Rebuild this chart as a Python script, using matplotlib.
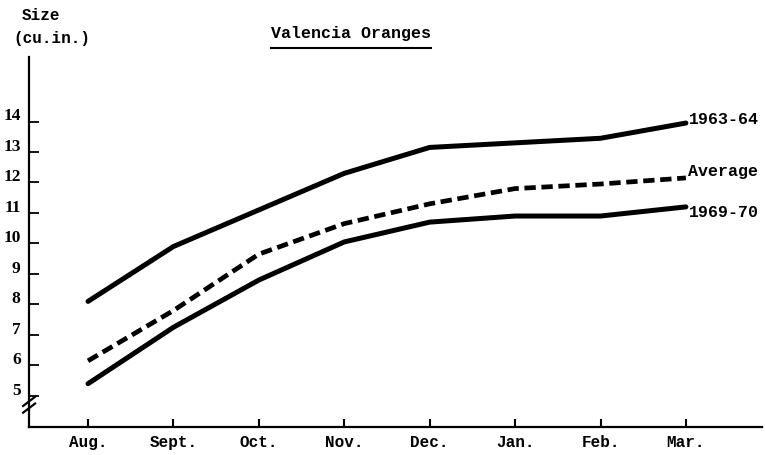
import numpy as np
import matplotlib.pyplot as plt
import matplotlib.transforms as mtransforms

months = ['Aug.', 'Sept.', 'Oct.', 'Nov.', 'Dec.', 'Jan.', 'Feb.', 'Mar.']
size_6364 = [8.1, 9.9, 11.1, 12.3, 13.15, 13.3, 13.45, 13.95]
size_avg = [6.15, 7.8, 9.65, 10.65, 11.3, 11.8, 11.95, 12.15]
size_6970 = [5.4, 7.25, 8.8, 10.05, 10.7, 10.9, 10.9, 11.2]
yticks = [5, 6, 7, 8, 9, 10, 11, 12, 13, 14]

mono = 'Liberation Mono'
serif = 'Liberation Serif'

fig = plt.figure(figsize=(7.65, 4.56), dpi=100)
ax = fig.add_axes([0.038, 0.0614, 0.958, 0.811])

x = np.arange(len(months))
ax.plot(x, size_6364, color='black', lw=3.6, solid_capstyle='round')
ax.plot(x, size_avg, color='black', lw=3.4, linestyle=(0, (2.4, 1.2)))
ax.plot(x, size_6970, color='black', lw=3.6, solid_capstyle='round')

# labels at right ends
ax.text(x[-1] + 0.03, size_6364[-1] + 0.15, '1963-64', fontfamily=mono,
        fontweight='bold', fontsize=12, va='center', ha='left')
ax.text(x[-1] + 0.03, size_avg[-1] + 0.25, 'Average', fontfamily=mono,
        fontweight='bold', fontsize=12, va='center', ha='left')
ax.text(x[-1] + 0.03, size_6970[-1] - 0.15, '1969-70', fontfamily=mono,
        fontweight='bold', fontsize=12, va='center', ha='left')

ax.set_xlim(-0.69, 7.89)
ax.set_ylim(3.98, 16.11)

for s in ['top', 'right']:
    ax.spines[s].set_visible(False)
for s in ['left', 'bottom']:
    ax.spines[s].set_linewidth(1.6)

ax.set_xticks(x)
ax.set_xticklabels(months, fontfamily=mono, fontweight='bold', fontsize=11.5)
ax.set_yticks(yticks)
ax.set_yticklabels([str(v) for v in yticks], fontfamily=serif,
                   fontweight='bold', fontsize=12.5)
ax.tick_params(axis='x', direction='in', length=6, width=1.5, pad=5)
ax.tick_params(axis='y', direction='in', length=7, width=1.3, pad=6)

# y labels sit a bit above their ticks
off = mtransforms.ScaledTranslation(0, 6 / 72, fig.dpi_scale_trans)
for lab in ax.get_yticklabels():
    lab.set_transform(lab.get_transform() + off)

# axis break mark
for dy in [0.0, 0.22]:
    ax.plot([-0.76, -0.62], [4.45 + dy, 4.75 + dy], color='black', lw=1.6,
            clip_on=False)

fig.text(0.029, 0.966, 'Size', fontfamily=mono, fontweight='bold',
         fontsize=11.5, va='center', ha='left')
fig.text(0.017, 0.916, '(cu.in.)', fontfamily=mono, fontweight='bold',
         fontsize=11.5, va='center', ha='left')

fig.text(0.459, 0.926, 'Valencia Oranges', fontfamily=mono,
         fontweight='bold', fontsize=12, va='center', ha='center')
fig.add_artist(plt.Line2D([0.354, 0.563], [0.893, 0.893], color='black',
                          lw=1.5, transform=fig.transFigure))

fig.savefig('out.png', dpi=100)
